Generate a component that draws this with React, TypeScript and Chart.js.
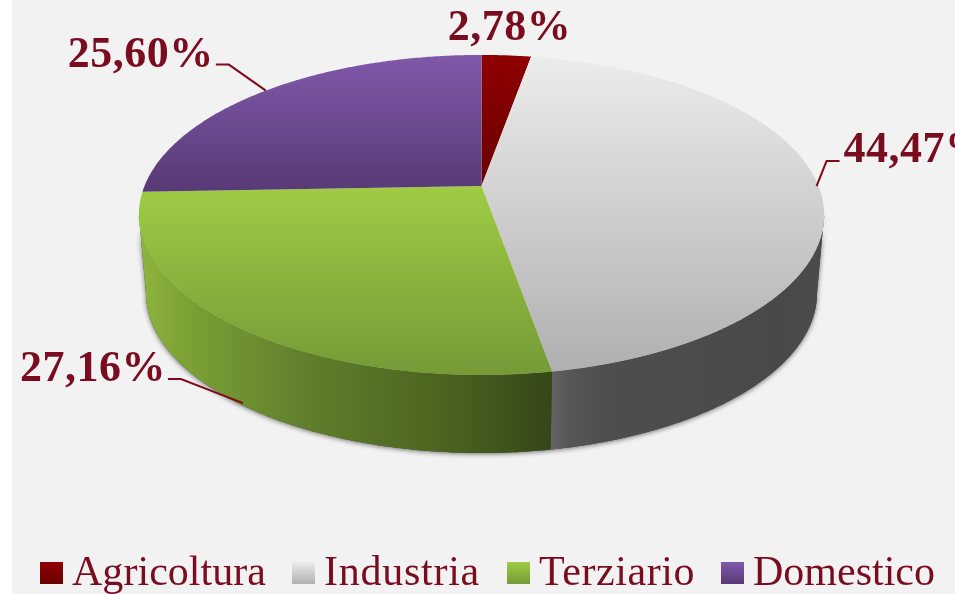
import React, { useEffect, useRef } from "react";
import { Chart, registerables } from "chart.js";

Chart.register(...registerables);

const categories = ["Agricoltura", "Industria", "Terziario", "Domestico"];
const shares = [2.78, 44.47, 27.16, 25.6];

const baseColors = ["#8b0000", "#d9d9d9", "#9bbb59", "#8064a2"];
const topGradients = [
  ["#8f0000", "#6a0000"],
  ["#ececec", "#b0b0b0"],
  ["#a0cb45", "#759a37"],
  ["#8059aa", "#573a75"],
];
const wallGradients: [number, string][][] = [
  [[0, "#5a0000"], [1, "#5a0000"]],
  [[0, "#646464"], [0.06, "#575757"], [0.2, "#4e4e4e"], [0.85, "#494949"], [1, "#4c4c4c"]],
  [[0, "#8fb53f"], [0.12, "#7ba034"], [0.4, "#60802c"], [0.75, "#4a6220"], [1, "#354717"]],
  [[0, "#4d3370"], [1, "#4d3370"]],
];
const textColor = "#7a0c20";
const leaderColor = "#800a1a";

// perspective of the disc
const CX = 481.5, CY = 186, A = 337, B = 154.8, K = 0.181;
const BOTTOM_A = 330, DEPTH = 78;

const project = (theta: number, bottom = false) => {
  const u = Math.sin(theta), v = -Math.cos(theta), d = 1 - K * v;
  return {
    x: CX + ((bottom ? BOTTOM_A : A) * u) / d,
    y: CY + (bottom ? DEPTH : 0) + (B * v) / d,
  };
};

// label placement relative to each slice's anchor
const labelConfig = [
  { ax: 0, ay: 0, dx: 3, dy: -15, align: "center", elbow: null, onWall: false },
  { ax: -2, ay: 0, dx: 27, dy: -24, align: "left", elbow: { ex: 10, ey: -25, hx: 23 }, onWall: false },
  { ax: 3, ay: -1, dx: -77, dy: -22, align: "right", elbow: { ex: -62, ey: -24, hx: -75 }, onWall: true },
  { ax: 0, ay: 0, dx: -52, dy: -24, align: "right", elbow: { ex: -37, ey: -26, hx: -50 }, onWall: false },
];

const LEGEND = { xs: [40, 292, 507, 721], widths: [194, 156, 156, 182], box: 23, boxTop: 562, boxH: 22, gap: 9, baseline: 585 };

const vGrad = (ctx: CanvasRenderingContext2D, y0: number, y1: number, stops: string[]) => {
  const g = ctx.createLinearGradient(0, y0, 0, y1);
  g.addColorStop(0, stops[0]);
  g.addColorStop(1, stops[1]);
  return g;
};

const arcPlugin = {
  id: "perspectivePie",
  beforeDatasetsDraw(chart: any) {
    const ctx: CanvasRenderingContext2D = chart.ctx;
    const arcs = chart.getDatasetMeta(0).data;
    const span = (el: any) => [el.startAngle + Math.PI / 2, el.endAngle + Math.PI / 2];
    const edge = Math.acos(-K);
    const wallFrom = edge, wallTo = 2 * Math.PI - edge;
    const step = Math.PI / 360;

    // outer wall silhouette with soft shadow
    ctx.save();
    ctx.shadowColor = "rgba(0,0,0,0.55)";
    ctx.shadowBlur = 5;
    ctx.shadowOffsetY = 1;
    ctx.fillStyle = "#4a4a4a";
    ctx.beginPath();
    for (let t = wallFrom; t <= wallTo; t += step) {
      const p = project(t);
      ctx.lineTo(p.x, p.y);
    }
    for (let t = wallTo; t >= wallFrom; t -= step) {
      const p = project(t, true);
      ctx.lineTo(p.x, p.y);
    }
    ctx.closePath();
    ctx.fill();
    ctx.restore();

    arcs.forEach((el: any, i: number) => {
      const [s, e] = span(el);
      const from = Math.max(s, wallFrom), to = Math.min(e, wallTo);
      if (to <= from) return;
      const a = project(from, true), b = project(to, true);
      const x0 = Math.min(a.x, b.x, project(from).x, project(to).x);
      const x1 = Math.max(a.x, b.x, project(from).x, project(to).x);
      const g = ctx.createLinearGradient(x0, 0, x1, 0);
      wallGradients[i].forEach(([o, c]) => g.addColorStop(o, c));
      ctx.fillStyle = g;
      ctx.beginPath();
      for (let t = from; t < to; t += step) {
        const p = project(t);
        ctx.lineTo(p.x, p.y);
      }
      const pe = project(to);
      ctx.lineTo(pe.x, pe.y);
      const be = project(to, true);
      ctx.lineTo(be.x, be.y);
      for (let t = to; t > from; t -= step) {
        const p = project(t, true);
        ctx.lineTo(p.x, p.y);
      }
      ctx.lineTo(a.x, a.y);
      ctx.closePath();
      ctx.fill();
    });

    // top surface
    arcs.forEach((el: any, i: number) => {
      const [s, e] = span(el);
      let minY = CY, maxY = CY;
      ctx.beginPath();
      ctx.moveTo(CX, CY);
      for (let t = s; t < e; t += step) {
        const p = project(t);
        minY = Math.min(minY, p.y);
        maxY = Math.max(maxY, p.y);
        ctx.lineTo(p.x, p.y);
      }
      const pe = project(e);
      minY = Math.min(minY, pe.y);
      maxY = Math.max(maxY, pe.y);
      ctx.lineTo(pe.x, pe.y);
      ctx.closePath();
      ctx.fillStyle = vGrad(ctx, minY, maxY, topGradients[i]);
      ctx.fill();
    });
    return false;
  },
  afterDraw(chart: any) {
    const ctx: CanvasRenderingContext2D = chart.ctx;
    const arcs = chart.getDatasetMeta(0).data;
    const values: number[] = chart.data.datasets[0].data;
    const labels: string[] = chart.data.labels;

    ctx.save();
    ctx.textBaseline = "alphabetic";
    arcs.forEach((el: any, i: number) => {
      const cfg = labelConfig[i];
      const mid = (el.startAngle + el.endAngle) / 2 + Math.PI / 2;
      const p = project(mid, cfg.onWall);
      const anchor = { x: p.x + cfg.ax, y: p.y + cfg.ay };
      if (cfg.elbow) {
        ctx.strokeStyle = leaderColor;
        ctx.lineWidth = 2;
        ctx.beginPath();
        ctx.moveTo(anchor.x, anchor.y);
        ctx.lineTo(anchor.x + cfg.elbow.ex, anchor.y + cfg.elbow.ey);
        ctx.lineTo(anchor.x + cfg.elbow.hx, anchor.y + cfg.elbow.ey);
        ctx.stroke();
      }
      ctx.font = 'bold 44px "Liberation Serif"';
      (ctx as any).letterSpacing = "0.5px";
      ctx.fillStyle = textColor;
      ctx.textAlign = cfg.align as CanvasTextAlign;
      ctx.fillText(values[i].toFixed(2).replace(".", ",") + "%", anchor.x + cfg.dx, anchor.y + cfg.dy);
    });

    // legend
    ctx.font = '42px "Liberation Serif"';
    ctx.textAlign = "left";
    labels.forEach((label, i) => {
      const x = LEGEND.xs[i];
      ctx.fillStyle = vGrad(ctx, LEGEND.boxTop, LEGEND.boxTop + LEGEND.boxH, topGradients[i]);
      ctx.fillRect(x, LEGEND.boxTop, LEGEND.box, LEGEND.boxH);
      const tx = x + LEGEND.box + LEGEND.gap;
      (ctx as any).letterSpacing = "0px";
      const natural = ctx.measureText(label).width;
      (ctx as any).letterSpacing = `${(LEGEND.widths[i] - natural) / label.length}px`;
      ctx.fillStyle = textColor;
      ctx.fillText(label, tx, LEGEND.baseline);
    });
    ctx.restore();
  },
  beforeDraw(chart: any) {
    const ctx: CanvasRenderingContext2D = chart.ctx;
    ctx.save();
    ctx.fillStyle = "#ffffff";
    ctx.fillRect(0, 0, chart.width, chart.height);
    ctx.fillStyle = "#f2f2f2";
    ctx.fillRect(12, 0, chart.width - 12, chart.height);
    ctx.restore();
  },
};

export default function App() {
  const ref = useRef<HTMLCanvasElement>(null);
  useEffect(() => {
    document.body.style.margin = "0";
    const chart = new Chart(ref.current as HTMLCanvasElement, {
      type: "pie",
      data: {
        labels: categories,
        datasets: [{ data: shares, backgroundColor: baseColors, borderWidth: 0 }],
      },
      options: {
        responsive: false,
        animation: false,
        plugins: { legend: { display: false }, tooltip: { enabled: false } },
      },
      plugins: [arcPlugin as any],
    });
    return () => chart.destroy();
  }, []);
  return <canvas ref={ref} width={955} height={594} style={{ display: "block", width: 955, height: 594 }} />;
}
